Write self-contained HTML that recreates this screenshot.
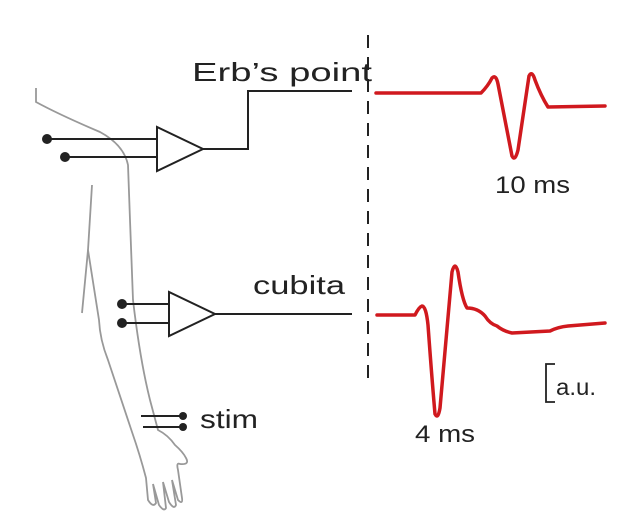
<!DOCTYPE html>
<html><head><style>
html,body{margin:0;padding:0;background:#fff;}
svg{display:block;}
text{font-family:"Liberation Sans",sans-serif;fill:#222;}
</style></head><body>
<svg width="631" height="525" viewBox="0 0 631 525">
<g fill="none" stroke="#999" stroke-width="1.8">
<path d="M36,88 L36,102 Q60,115 100,132 Q124,145 128,165 L130,220 L133,300 Q140,360 150,400 L158,430 Q168,435 175,445 Q183,452 186,458 Q190,465 180,464 Q176,462 178,470 L182,498 Q183,505 178,500 L172,480 L176,505 Q174,510 169,502 L163,482 L166,508 Q164,512 159,505 L153,484 L156,503 Q153,508 148,500 L146,478 Q140,455 132,432 L108,360 Q100,340 99,320 L88,250"/>
<path d="M92,185 L88,250 L82,313"/>
</g>
<line x1="368" y1="35" x2="368" y2="380" stroke="#222" stroke-width="2" stroke-dasharray="13,9"/>
<g stroke="#222" stroke-width="2" fill="#fff">
<line x1="47" y1="139" x2="157" y2="139"/>
<line x1="65" y1="157" x2="157" y2="157"/>
<polygon points="157,127 157,171 203,149"/>
<polyline fill="none" points="203,149 248,149 248,91 352,91"/>
<line x1="122" y1="304" x2="169" y2="304"/>
<line x1="122" y1="323" x2="169" y2="323"/>
<polygon points="169,292 169,336 215,314"/>
<line x1="215" y1="314" x2="352" y2="314"/>
<line x1="141" y1="416" x2="183" y2="416"/>
<line x1="143" y1="427" x2="183" y2="427"/>
</g>
<g fill="#222">
<circle cx="47" cy="139" r="5"/><circle cx="65" cy="157" r="5"/>
<circle cx="122" cy="304" r="5"/><circle cx="122" cy="323" r="5"/>
<circle cx="183" cy="416" r="4"/><circle cx="183" cy="427" r="4"/>
</g>
<text x="192" y="81" font-size="26" textLength="180" lengthAdjust="spacingAndGlyphs">Erb’s point</text>
<text x="253" y="294" font-size="26" textLength="92" lengthAdjust="spacingAndGlyphs">cubita</text>
<text x="200" y="428" font-size="26" textLength="58" lengthAdjust="spacingAndGlyphs">stim</text>
<g fill="none" stroke="#d0191e" stroke-width="3.5" stroke-linejoin="round" stroke-linecap="round">
<path d="M376,93 L481,93 Q488,86 492,78 Q496,74 498,84 Q505,120 512,156 Q515,162 518,150 Q524,110 529,76 Q532,70 535,80 Q541,96 548,107 L605,106"/>
<path d="M377,315 L415,315 Q419,307 422,306 Q426,306 428,325 Q432,380 435,414 Q438,420 440,408 Q447,330 452,272 Q455,260 458,272 Q462,300 467,308 Q478,308 485,316 Q490,324 497,326 Q503,331 512,333 L550,331 Q558,327 568,326 L605,323"/>
</g>
<polyline points="555,364 546,364 546,402 555,402" fill="none" stroke="#222" stroke-width="1.8"/>
<text x="556" y="395" font-size="23" textLength="40" lengthAdjust="spacingAndGlyphs">a.u.</text>
<text x="495" y="193" font-size="24" textLength="75" lengthAdjust="spacingAndGlyphs">10 ms</text>
<text x="415" y="442" font-size="24" textLength="60" lengthAdjust="spacingAndGlyphs">4 ms</text>
</svg>
</body></html>
